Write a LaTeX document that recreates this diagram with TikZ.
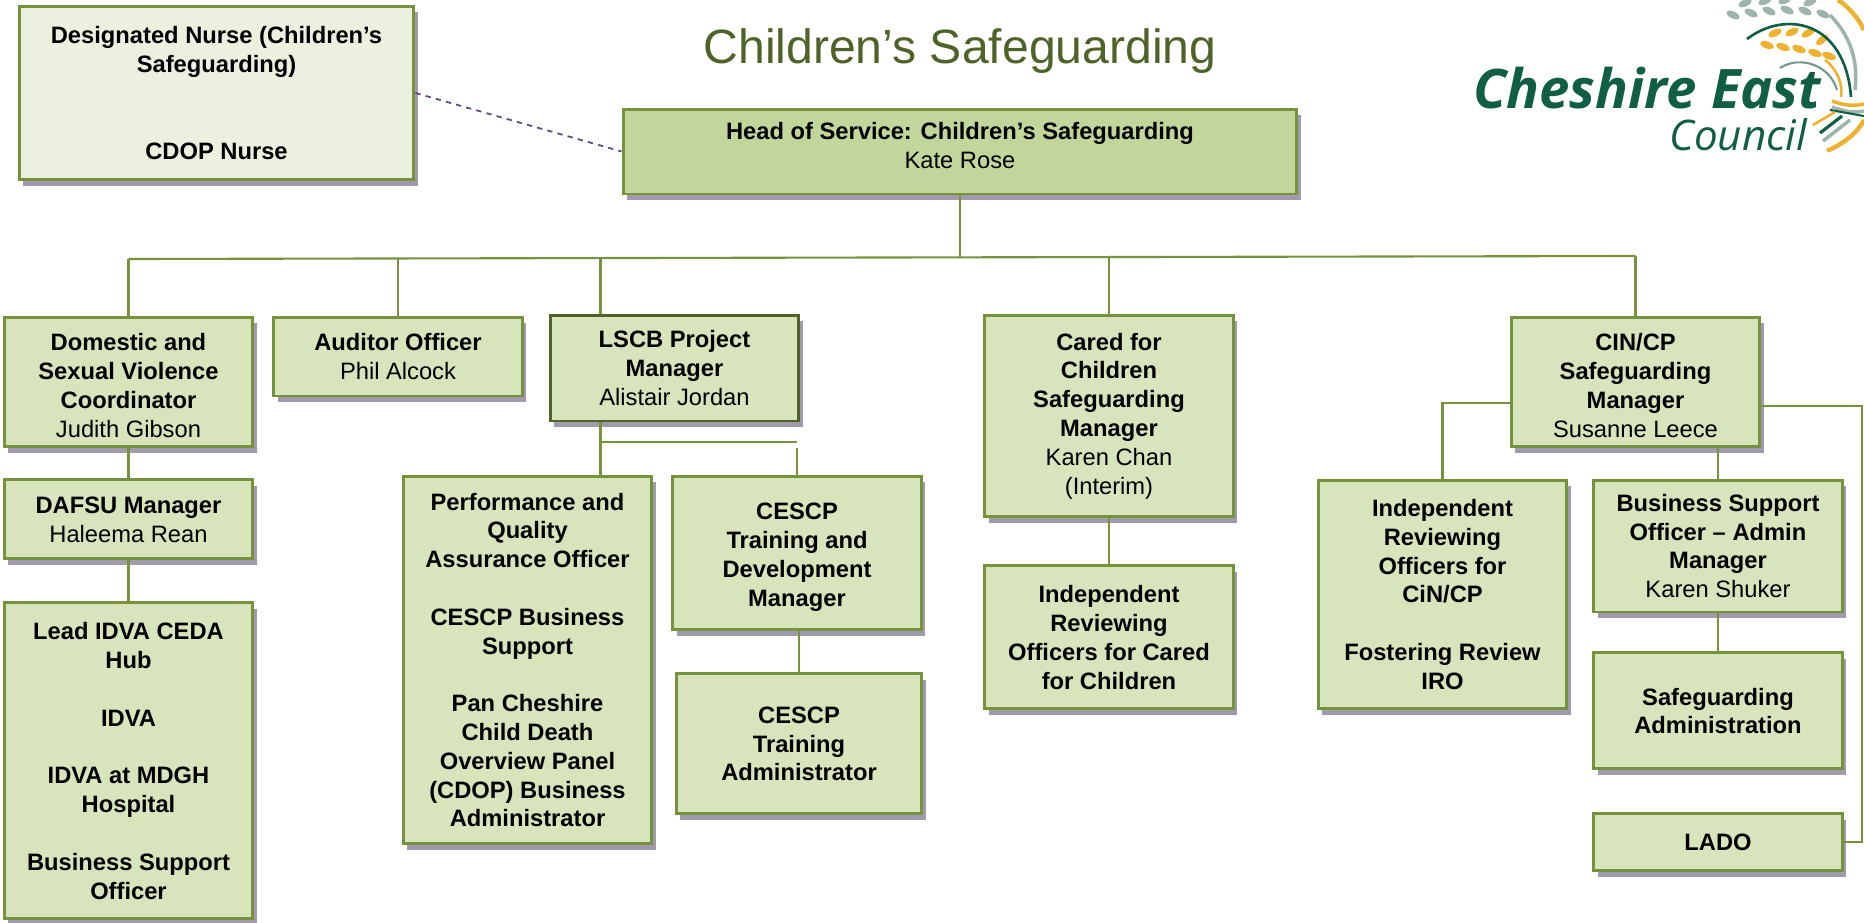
\documentclass[tikz,border=0pt]{standalone}
\usepackage{fontspec}
\setmainfont{Liberation Sans}
\newfontfamily\logofont{Open Sans}
\usepackage{xcolor}
\usetikzlibrary{shadows,positioning}
\definecolor{boxline}{HTML}{76923C}
\definecolor{boxdark}{HTML}{4F6228}
\definecolor{boxfill}{HTML}{D8E4BC}
\definecolor{headfill}{HTML}{C2D69B}
\definecolor{paleboxfill}{HTML}{EBF1DE}
\definecolor{shadowgrey}{HTML}{A09AAC}
\definecolor{dashpurple}{HTML}{5F497A}
\definecolor{logogreen}{HTML}{0F5E45}
\definecolor{logogold}{HTML}{EDB22F}
\definecolor{logogrey}{HTML}{9DB5AC}
\newcommand{\staff}[1]{{\mdseries #1}}
\newcommand{\pushdown}{\rule{0pt}{14pt}}
\newcommand{\pushup}{\rule[-7pt]{0pt}{1pt}}
\tikzset{
	orgbox/.style={draw=boxline, fill=boxfill, line width=1.7pt, align=center, inner sep=0pt,
		minimum width=4.98cm, font=\fontsize{13.5}{16.4}\selectfont\bfseries,
		drop shadow={shadow xshift=0.08cm, shadow yshift=-0.12cm, opacity=1, fill=shadowgrey}},
	link/.style={draw=boxline, line width=1.2pt},
}
\begin{document}
\begin{tikzpicture}[x=0.02cm, y=-0.02cm]
	\useasboundingbox (0,0) rectangle (1864,923);
	\node[text=boxdark, font=\fontsize{27.4}{33}\selectfont] (title) at (960,51) {Children’s Safeguarding};

	\node[orgbox, fill=paleboxfill, minimum width=7.9cm, minimum height=3.48cm] (nurse) at (216.5,93) {Designated Nurse (Children’s\\Safeguarding)\\[16.4pt]\\CDOP Nurse};
	\node[orgbox, fill=headfill, minimum width=13.48cm, minimum height=1.7cm] (head) at (960,151.5) {Head of Service: Children’s Safeguarding\\\staff{Kate Rose}\pushup};

	\node[orgbox, minimum height=2.6cm] (dom) at (128.5,382) {\pushdown Domestic and\\Sexual Violence\\Coordinator\\\staff{Judith Gibson}};
	\node[orgbox, minimum height=1.58cm, below=0.6cm of dom] (dafsu) {DAFSU Manager\\\staff{Haleema Rean}};
	\node[orgbox, minimum height=6.32cm, below=0.82cm of dafsu] (idva) {Lead IDVA CEDA\\Hub\\[16.4pt]IDVA\\[16.4pt]IDVA at MDGH\\Hospital\\[16.4pt]Business Support\\Officer};
	\node[orgbox, minimum height=1.58cm] (auditor) at (398,356.5) {Auditor Officer\\\staff{Phil Alcock}};
	\node[orgbox, draw=boxdark, minimum height=2.12cm] (lscb) at (674.5,368) {LSCB Project\\Manager\\\staff{Alistair Jordan}};
	\node[orgbox, minimum height=7.36cm] (perf) at (527.5,660) {Performance and\\Quality\\Assurance Officer\\[16.4pt]CESCP Business\\Support\\[16.4pt]Pan Cheshire\\Child Death\\Overview Panel\\(CDOP) Business\\Administrator};
	\node[orgbox, minimum height=3.08cm] (devmgr) at (797,553) {\pushdown CESCP\\Training and\\Development\\Manager};
	\node[orgbox, minimum width=4.92cm, minimum height=2.8cm, below=0.82cm of devmgr, xshift=0.04cm] (trainadmin) {CESCP\\Training\\Administrator};
	\node[orgbox, minimum height=4.04cm] (cared) at (1109,416) {Cared for\\Children\\Safeguarding\\Manager\\\staff{Karen Chan}\\\staff{(Interim)}};
	\node[orgbox, minimum height=2.86cm, below=0.92cm of cared] (irocared) {Independent\\Reviewing\\Officers for Cared\\for Children};
	\node[orgbox, minimum height=2.6cm] (cin) at (1635.5,382) {\pushdown CIN/CP\\Safeguarding\\Manager\\\staff{Susanne Leece}};
	\node[orgbox, minimum height=4.58cm] (irocin) at (1442.5,594.5) {Independent\\Reviewing\\Officers for\\CiN/CP\\[16.4pt]Fostering Review\\IRO};
	\node[orgbox, minimum height=2.64cm] (bizadmin) at (1718,546) {Business Support\\Officer – Admin\\Manager\\\staff{Karen Shuker}};
	\node[orgbox, minimum height=2.32cm, below=0.76cm of bizadmin] (sgadmin) {Safeguarding\\Administration};
	\node[orgbox, minimum height=1.14cm, below=0.84cm of sgadmin] (lado) {LADO};

	% connectors
	\coordinate (bus1) at (128.5,259);
	\coordinate (bus2) at (398,258.5);
	\coordinate (bus3) at (600.5,258);
	\coordinate (bus4) at (1109,257);
	\coordinate (bus5) at (1635.5,256);
	\coordinate (busmid) at (960,257);
	\coordinate (branch) at (600.5,442);
	\coordinate (branchend) at (797,442);
	\coordinate (branchdrop) at (797,448);
	\coordinate (cinleft) at (1443,403);
	\coordinate (cinright) at (1862,406);
	\coordinate (cinbelow) at (1718,447);

	\draw[dashed, dashpurple, line width=1pt] (nurse.east) -- (head.west);
	\draw[link] (head.south) -- (busmid);
	\draw[link] (bus1) -- (bus5);
	\draw[link] (bus1) -- (dom.north);
	\draw[link] (bus2) -- (auditor.north);
	\draw[link] (bus3) -- (bus3 |- lscb.north);
	\draw[link] (bus4) -- (cared.north);
	\draw[link] (bus5) -- (cin.north);
	\draw[link] (dom.south) -- (dafsu.north);
	\draw[link] (dafsu.south) -- (idva.north);
	\draw[link] (bus3 |- lscb.south) -- (bus3 |- perf.north);
	\draw[link] (branch) -- (branchend);
	\draw[link] (branchdrop) -- (devmgr.north);
	\draw[link] (trainadmin.north |- devmgr.south) -- (trainadmin.north);
	\draw[link] (cared.south) -- (irocared.north);
	\draw[link] (cin.west |- cinleft) -| (irocin.north);
	\draw[link] (cinbelow) -- (bizadmin.north);
	\draw[link] (bizadmin.south) -- (sgadmin.north);
	\draw[link] (cin.east |- cinright) -- (cinright) |- (lado.east);

	% logo
	\begin{scope}
		\clip (1464,0) rectangle (1864,151);
		\node[anchor=base west, inner sep=0pt, text=logogreen, font=\logofont\fontsize{31}{31}\selectfont\bfseries\itshape] (logoname) at (1473,108) {Cheshire East};
		\node[anchor=base west, inner sep=0pt, text=logogreen, font=\logofont\fontsize{24}{24}\selectfont\itshape] (logocouncil) at (1669,150) {Council};
		\foreach \lx/\ly/\lr in {1733/15/-25,1751/13/-25,1769/11/-25,1787/10/-25,1805/11/-25,1823/14/-25,1745/3/25,1765/1/25,1785/0/25,1810/2/25}
			\fill[logogrey, rotate around={\lr:(\lx,\ly)}] (\lx,\ly) ellipse (7 and 3.5);
		\foreach \lx/\ly/\lr in {1767/45/-20,1783/47/-20,1799/49/-20,1815/53/-20,1829/56/-20,1775/33/25,1792/32/25,1808/33/30,1822/40/40}
			\fill[logogold, rotate around={\lr:(\lx,\ly)}] (\lx,\ly) ellipse (7 and 3.5);
		\draw[logogold, line width=2.5pt] (1838,0) .. controls (1850,8) and (1858,18) .. (1864,30);
		\draw[logogrey, line width=2pt] (1830,15) .. controls (1852,38) and (1858,62) .. (1855,90);
		\draw[logogreen, line width=1.5pt] (1747,39) .. controls (1785,10) and (1845,20) .. (1851,97);
		\draw[logogold, line width=1.5pt] (1825,60) .. controls (1838,70) and (1843,85) .. (1841,97);
		\draw[logogrey!70!logogreen, line width=1.2pt] (1780,68) .. controls (1800,55) and (1830,65) .. (1837,90);
		\draw[logogold, line width=2pt] (1832,101) .. controls (1845,106) and (1855,106) .. (1864,104);
		\draw[logogrey, line width=2pt] (1832,107) .. controls (1845,112) and (1855,113) .. (1864,111);
		\draw[logogreen, line width=1.2pt] (1830,110) -- (1864,116);
		\draw[logogold, line width=1.5pt] (1813,125) -- (1835,112);
		\draw[logogreen, line width=1.8pt] (1820,133) -- (1842,116);
		\draw[logogrey, line width=2pt] (1823,141) -- (1850,120);
		\draw[logogold, line width=2.5pt] (1827,151) .. controls (1845,143) and (1858,132) .. (1864,120);
	\end{scope}
\end{tikzpicture}
\end{document}
